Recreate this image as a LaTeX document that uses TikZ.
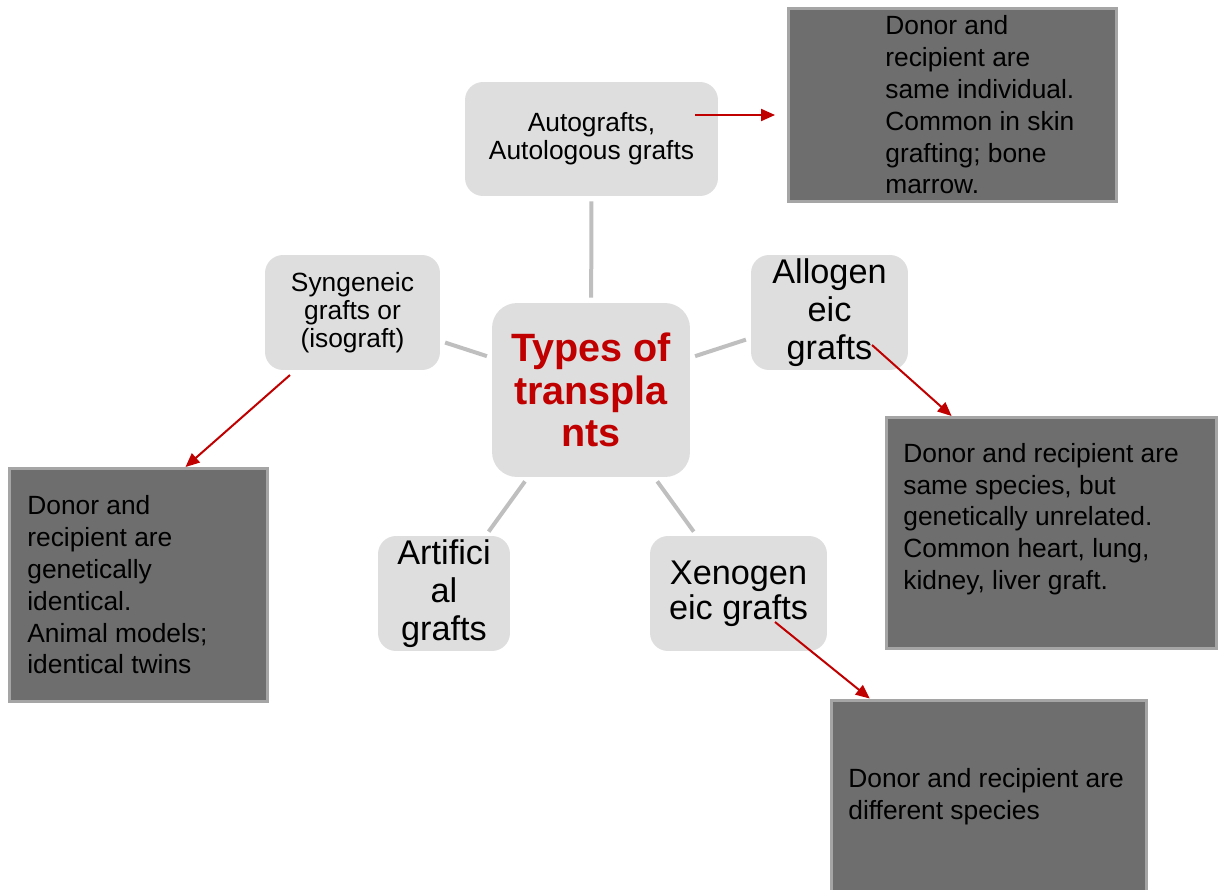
\documentclass[tikz,border=0pt]{standalone}
\usepackage{fontspec}
\setmainfont{Liberation Sans}
\usepackage{tikz}
\usetikzlibrary{arrows.meta,calc,positioning}
\definecolor{boxgray}{RGB}{222,222,222}
\definecolor{darkfill}{RGB}{110,110,110}
\definecolor{darkrim}{RGB}{165,165,165}
\definecolor{spokegray}{RGB}{191,191,191}
\definecolor{arrowred}{RGB}{192,0,0}

\begin{document}
\begin{tikzpicture}[
        x=0.02cm, y=-0.02cm,
        graft/.style={rectangle, rounded corners=0.36cm, fill=boxgray, inner sep=0pt, align=center, font=\fontsize{15}{16}\selectfont},
        biggraft/.style={graft, font=\fontsize{19.5}{21.5}\selectfont},
        descbox/.style={rectangle, draw=darkrim, line width=0.06cm, fill=darkfill, inner sep=0pt},
        desctext/.style={anchor=west, align=left, inner sep=0pt, font=\fontsize{15}{18.1}\selectfont},
        spoke/.style={draw=spokegray, line width=0.08cm, shorten <=0.1cm, shorten >=0.1cm},
        redarrow/.style={draw=arrowred, line width=0.04cm, -{Triangle[length=0.28cm, width=0.24cm]}}
    ]
        \useasboundingbox (0,0) rectangle (1223,889);

        % Centre and graft types
        \node[graft, rounded corners=0.5cm, minimum width=3.96cm, minimum height=3.48cm, text=arrowred, font=\bfseries\fontsize{22.5}{24}\selectfont] (types) at (591,390) {Types of\\transpla\\nts};
        \node[graft, minimum width=5.06cm, minimum height=2.28cm] (auto) at (591.5,139) {Autografts,\\Autologous grafts};
        \node[graft, minimum width=3.5cm, minimum height=2.3cm] (syn) at (352.5,312.5) {Syngeneic\\grafts or\\(isograft)};
        \node[biggraft, minimum width=3.14cm, minimum height=2.3cm] (allo) at (829.5,312.5) {Allogen\\eic\\grafts};
        \node[biggraft, minimum width=2.64cm, minimum height=2.3cm] (art) at (444,593.5) {Artifici\\al\\grafts};
        \node[biggraft, minimum width=3.54cm, minimum height=2.3cm, font=\fontsize{19.5}{20}\selectfont] (xeno) at (738.5,593.5) {Xenogen\\eic grafts};

        % Descriptions
        \node[descbox, minimum width=6.56cm, minimum height=3.86cm] (autodesc) at (952.5,105) {};
        \node[desctext, right=1.96cm of autodesc.west] (autotext) {Donor and\\recipient are\\same individual.\\Common in skin\\grafting; bone\\marrow.};
        \node[descbox, minimum width=5.16cm, minimum height=4.66cm] (syndesc) at (138.5,585) {};
        \node[desctext, right=0.38cm of syndesc.west] (syntext) {Donor and\\recipient are\\genetically\\identical.\\Animal models;\\identical twins};
        \node[descbox, minimum width=6.6cm, minimum height=4.62cm] (allodesc) at (1051.5,533) {};
        \node[desctext, right=0.36cm of allodesc.west, yshift=0.28cm] (allotext) {Donor and recipient are\\same species, but\\genetically unrelated.\\Common heart, lung,\\kidney, liver graft.};
        \node[descbox, minimum width=6.3cm, minimum height=4cm] (xenodesc) at (989,800) {};
        \node[desctext, right=0.36cm of xenodesc.west, yshift=0.06cm] (xenotext) {Donor and recipient are\\different species};

        % Spokes from the centre
        \draw[spoke] (types) -- (auto);
        \draw[spoke] (types) -- (syn);
        \draw[spoke] (types) -- (allo);
        \draw[spoke] (types) -- (art);
        \draw[spoke] (types) -- (xeno);

        % Red arrows to the descriptions
        \coordinate (autoout) at (695,115);
        \coordinate (synout) at (290,375);
        \coordinate (alloout) at (872,345);
        \coordinate (xenoout) at (775,622);
        \draw[redarrow, shorten >=0.24cm] (autoout) -- (autodesc.west |- autoout);
        \draw[redarrow] (synout) -- ($(syndesc.north west)!0.68!(syndesc.north east)$);
        \draw[redarrow] (alloout) -- ($(allodesc.north west)!0.2!(allodesc.north east)$);
        \draw[redarrow] (xenoout) -- ($(xenodesc.north west)!0.125!(xenodesc.north east)$);
    \end{tikzpicture}
\end{document}
